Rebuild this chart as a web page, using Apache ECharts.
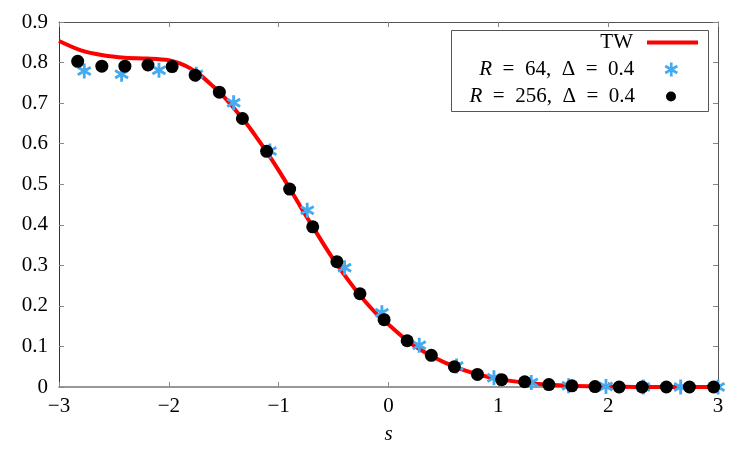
<!DOCTYPE html>
<html>
<head>
<meta charset="utf-8">
<script src="https://cdn.jsdelivr.net/npm/echarts@6/dist/echarts.min.js"></script>
<style>
  html, body { margin: 0; padding: 0; background: #fff; }
  #main { width: 750px; height: 450px; }
</style>
</head>
<body>
<div id="main"></div>
<script>
// TW curve
var twX = [-3.0, -2.8, -2.6, -2.4, -2.2, -2.0, -1.9, -1.8, -1.7, -1.6, -1.5, -1.4, -1.3, -1.2, -1.1, -1.0,
  -0.9, -0.8, -0.7, -0.6, -0.5, -0.4, -0.3, -0.2, -0.1, 0.0, 0.2, 0.4, 0.6, 0.8, 1.0, 1.2, 1.4, 1.6, 2.0, 2.5, 3.0];
var twY = [0.853, 0.830, 0.818, 0.812, 0.810, 0.806, 0.798, 0.785, 0.766, 0.742, 0.716, 0.685, 0.652, 0.615, 0.576, 0.534,
  0.490, 0.444, 0.400, 0.356, 0.314, 0.276, 0.240, 0.207, 0.178, 0.154, 0.108, 0.075, 0.050, 0.032, 0.020, 0.012, 0.007, 0.004, 0.001, 0.0, 0.0];

// R = 64, Delta = 0.4
var r64X = [-2.77, -2.43, -2.09, -1.75, -1.41, -1.08, -0.74, -0.40, -0.06, 0.28, 0.62, 0.96, 1.30, 1.64, 1.98, 2.32, 2.66, 3.00];
var r64Y = [0.779, 0.771, 0.781, 0.771, 0.701, 0.582, 0.436, 0.294, 0.183, 0.103, 0.052, 0.023, 0.011, 0.003, 0.001, 0.0, 0.0, 0.0];

// R = 256, Delta = 0.4
var r256X = [-2.83, -2.61, -2.40, -2.19, -1.97, -1.76, -1.54, -1.33, -1.11, -0.90, -0.69, -0.47, -0.26, -0.04,
  0.17, 0.39, 0.60, 0.81, 1.03, 1.24, 1.46, 1.67, 1.88, 2.10, 2.31, 2.53, 2.74, 2.96];
var r256Y = [0.803, 0.791, 0.791, 0.794, 0.790, 0.769, 0.727, 0.662, 0.581, 0.488, 0.395, 0.309, 0.230, 0.166,
  0.114, 0.078, 0.050, 0.031, 0.018, 0.013, 0.006, 0.003, 0.001, 0.0, 0.0, 0.0, 0.0, 0.0];

var names = ['TW', 'R = 64, Δ = 0.4', 'R = 256, Δ = 0.4'];
var legendText = {
  'TW': 'TW',
  'R = 64, Δ = 0.4': '{i|R}\u2002=\u200264,\u2002Δ\u2002=\u20020.4',
  'R = 256, Δ = 0.4': '{i|R}\u2002=\u2002256,\u2002Δ\u2002=\u20020.4'
};

function pairs(xs, ys) {
  return xs.map(function (x, i) { return [x, ys[i]]; });
}

// six-armed asterisk made of three bars
function asteriskPath() {
  var d = '';
  [90, 30, 150].forEach(function (a) {
    var r = a * Math.PI / 180, c = Math.cos(r), s = Math.sin(r), w = 0.19;
    var pts = [[-1, -w], [1, -w], [1, w], [-1, w]].map(function (p) {
      return [(p[0] * c - p[1] * s).toFixed(3), (p[0] * s + p[1] * c).toFixed(3)];
    });
    d += 'M' + pts[0].join(' ') + 'L' + pts[1].join(' ') + 'L' + pts[2].join(' ') + 'L' + pts[3].join(' ') + 'Z';
  });
  return 'path://' + d;
}
var starSymbol = asteriskPath();

var font = 'Liberation Serif';
var minus = function (v) { return String(v).replace('-', '\u2212'); };

var chart = echarts.init(document.getElementById('main'));

function legendFor(name, top, right, icon, w, h, pad) {
  return {
    data: [{ name: name, icon: icon }],
    right: right,
    top: top,
    align: 'right',
    itemWidth: w,
    itemHeight: h,
    padding: 0,
    selectedMode: false,
    formatter: function (n) { return legendText[n]; },
    textStyle: {
      fontFamily: font, fontSize: 21, color: '#000', padding: [0, pad, 0, 0],
      rich: { i: { fontFamily: font, fontSize: 21, fontStyle: 'italic', color: '#000' } }
    }
  };
}

var frameLine = { show: true, onZero: false, lineStyle: { color: '#555', width: 1 } };
var tick = { show: true, inside: true, length: 5, lineStyle: { color: '#888' } };

var option = {
  animation: false,
  backgroundColor: '#fff',
  grid: { left: 59, right: 32, top: 22, bottom: 61 },
  legend: [
    legendFor(names[0], 32, 52, 'rect', 51, 4, 9),
    legendFor(names[1], 59, 72, starSymbol, 14, 14, 25),
    legendFor(names[2], 86, 74, 'circle', 10, 10, 26)
  ],
  graphic: [{
    type: 'rect', left: 451, top: 30, z: 0,
    shape: { width: 257, height: 81 },
    style: { fill: '#fff', stroke: '#555', lineWidth: 1 }
  }],
  xAxis: [{
    type: 'value', min: -3, max: 3, interval: 1,
    name: 's', nameLocation: 'middle', nameGap: 37,
    nameTextStyle: { fontFamily: font, fontSize: 21, fontStyle: 'italic', color: '#000' },
    axisLine: { show: true, onZero: false, lineStyle: { color: '#777', width: 1.5 } },
    axisTick: tick,
    axisLabel: { fontFamily: font, fontSize: 21, color: '#000', margin: 9, formatter: minus },
    splitLine: { show: false }
  }, {
    type: 'value', min: -3, max: 3, interval: 1, position: 'top',
    axisLine: frameLine, axisTick: tick, axisLabel: { show: false }, splitLine: { show: false }
  }],
  yAxis: [{
    type: 'value', min: 0, max: 0.9, interval: 0.1,
    axisLine: { show: true, onZero: false, lineStyle: { color: '#333', width: 1 } },
    axisTick: tick,
    axisLabel: { fontFamily: font, fontSize: 21, color: '#000', margin: 11 },
    splitLine: { show: false }
  }, {
    type: 'value', min: 0, max: 0.9, interval: 0.1, position: 'right',
    axisLine: frameLine, axisTick: tick, axisLabel: { show: false }, splitLine: { show: false }
  }],
  series: [{
    name: names[0], type: 'line', data: pairs(twX, twY),
    smooth: 0.3, showSymbol: false, color: '#ff0000',
    lineStyle: { color: '#ff0000', width: 4 }, z: 2
  }, {
    name: names[1], type: 'scatter', data: pairs(r64X, r64Y),
    symbol: starSymbol, symbolSize: 15, symbolKeepAspect: true,
    color: '#45aaf0', itemStyle: { color: '#45aaf0', opacity: 1 }, z: 3
  }, {
    name: names[2], type: 'scatter', data: pairs(r256X, r256Y),
    symbol: 'circle', symbolSize: 13, color: '#000', itemStyle: { color: '#000', opacity: 1 }, z: 4
  }]
};

chart.setOption(option);
</script>
</body>
</html>
